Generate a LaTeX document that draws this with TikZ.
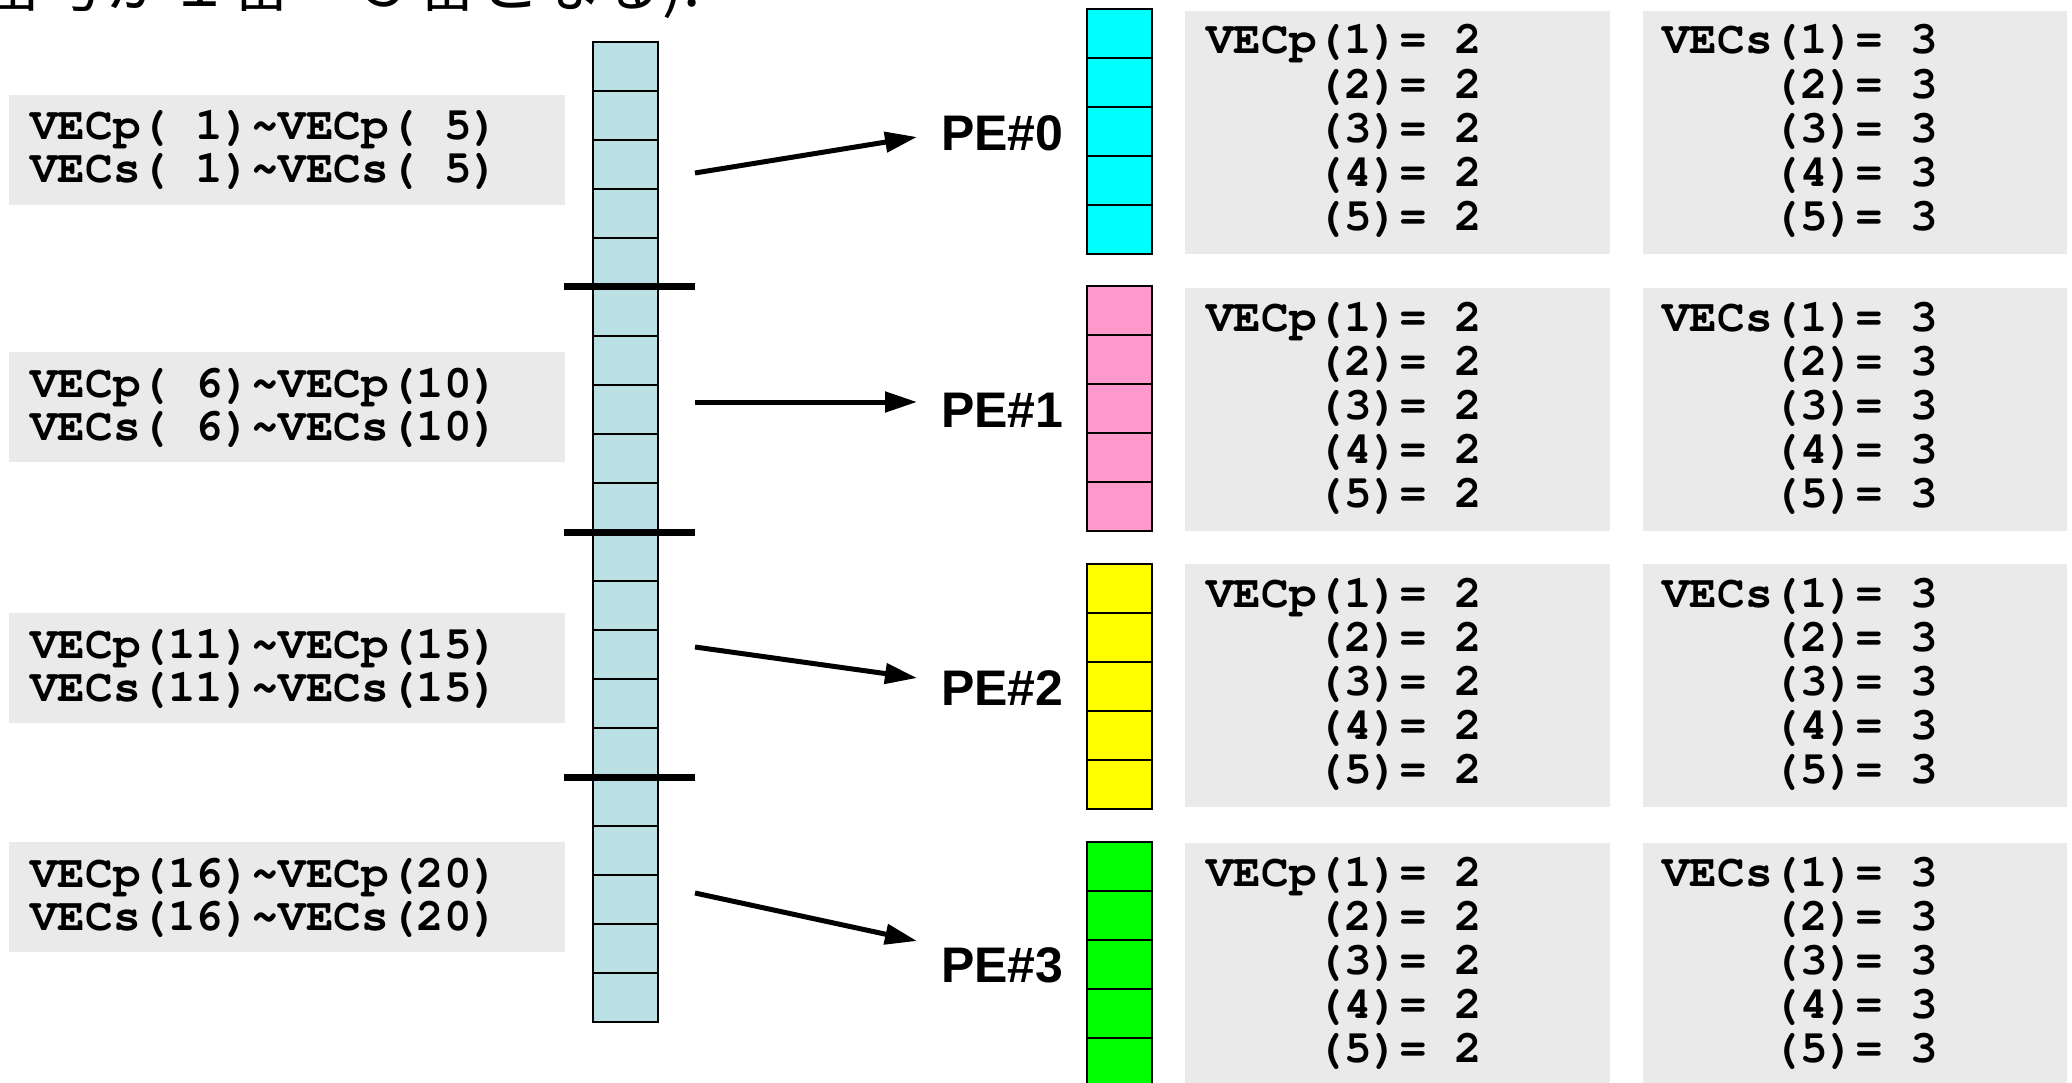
\documentclass[tikz,border=0pt]{standalone}
\usepackage{fontspec}
\setmainfont{Liberation Sans}
\setmonofont{Liberation Mono}
\newfontfamily\jpfont{Noto Sans CJK JP}
\newcommand{\courbold}{\fontencoding{T1}\fontfamily{pcr}\fontseries{b}\fontsize{46}{44}\selectfont}
\usetikzlibrary{arrows.meta}
\definecolor{colbg}{HTML}{BBE0E3}
\definecolor{boxgray}{HTML}{EAEAEA}
\definecolor{pecyan}{HTML}{00FFFF}
\definecolor{pepink}{HTML}{FF99CC}
\definecolor{peyellow}{HTML}{FFFF00}
\definecolor{pegreen}{HTML}{00FF00}
\begin{document}
\begin{tikzpicture}[x=1pt,y=-1pt,
  graybox/.style={fill=boxgray, draw=none, inner sep=0pt, outer sep=0pt, anchor=north west},
  cellbox/.style={draw=black, line width=2.5pt, minimum width=65pt, minimum height=49pt, inner sep=0pt, outer sep=0pt, anchor=north west},
  monotxt/.style={font=\courbold, inner sep=0pt, anchor=base west},
  pelabel/.style={font=\fontsize{50}{50}\selectfont\bfseries, inner sep=0pt, anchor=base west},
  sepbar/.style={line width=7pt},
  maparrow/.style={line width=5pt, -{Triangle[length=32pt,width=20pt]}}
]
\useasboundingbox (0,0) rectangle (2072,1083);

% cut-off note at the top
\node[font={\jpfont\fontsize{62}{62}\selectfont}, anchor=base west, inner sep=0pt] (note) at (-18,7) {番号が１番～５番となる).};

% left gray boxes with ranges
\foreach \bx/\top/\a/\b in {1/95/\ 1/\ 5, 2/352/\ 6/10, 3/613/11/15, 4/842/16/20} {
  \node[graybox, minimum width=556pt, minimum height=110pt] (lb\bx) at (9,\top) {};
  \node[monotxt] (lt\bx a) at (30,{\top+45}) {VECp(\a)\textasciitilde VECp(\b)};
  \node[monotxt] (lt\bx b) at (30,{\top+88}) {VECs(\a)\textasciitilde VECs(\b)};
}

% global column of 20 cells
\foreach \i in {0,...,19} {
  \node[cellbox, fill=colbg] (c\i) at (593,{42+49*\i}) {};
}
% separators
\foreach \s/\yy in {1/287, 2/532, 3/777} {
  \draw[sepbar] (564,\yy) -- (695,\yy);
}

% PE columns
\foreach \rw/\top/\col in {0/9/pecyan, 1/286/pepink, 2/564/peyellow, 3/842/pegreen} {
  \foreach \k in {0,...,4} {
    \node[cellbox, fill=\col] (p\rw-\k) at (1087,{\top+49*\k}) {};
  }
}

% PE labels
\foreach \rw/\yy in {0/151, 1/427, 2/705, 3/982} {
  \node[pelabel] (pe\rw) at (941,\yy) {PE\#\rw};
}

% right gray boxes with values
\foreach \rw/\top in {0/11, 1/288, 2/564, 3/843} {
  \node[graybox, minimum width=425pt, minimum height=243pt] (vp\rw) at (1185,\top) {};
  \node[graybox, minimum width=424pt, minimum height=243pt] (vs\rw) at (1643,\top) {};
  \node[monotxt] (vp\rw-1) at (1206,{\top+43}) {VECp(1)= 2};
  \node[monotxt] (vs\rw-1) at (1662,{\top+43}) {VECs(1)= 3};
  \foreach \k in {2,...,5} {
    \node[monotxt] (vp\rw-\k) at (1206,{\top+43+44.2*(\k-1)}) {\phantom{VECp}(\k)= 2};
    \node[monotxt] (vs\rw-\k) at (1662,{\top+43+44.2*(\k-1)}) {\phantom{VECs}(\k)= 3};
  }
}

% arrows
\coordinate (a0s) at (695,173); \coordinate (a0e) at (917,137);
\coordinate (a1s) at (695,402); \coordinate (a1e) at (917,402);
\coordinate (a2s) at (695,647); \coordinate (a2e) at (917,678);
\coordinate (a3s) at (695,893); \coordinate (a3e) at (917,941);
\draw[maparrow] (a0s) -- (a0e);
\draw[maparrow] (a1s) -- (a1e);
\draw[maparrow] (a2s) -- (a2e);
\draw[maparrow] (a3s) -- (a3e);
\end{tikzpicture}
\end{document}
